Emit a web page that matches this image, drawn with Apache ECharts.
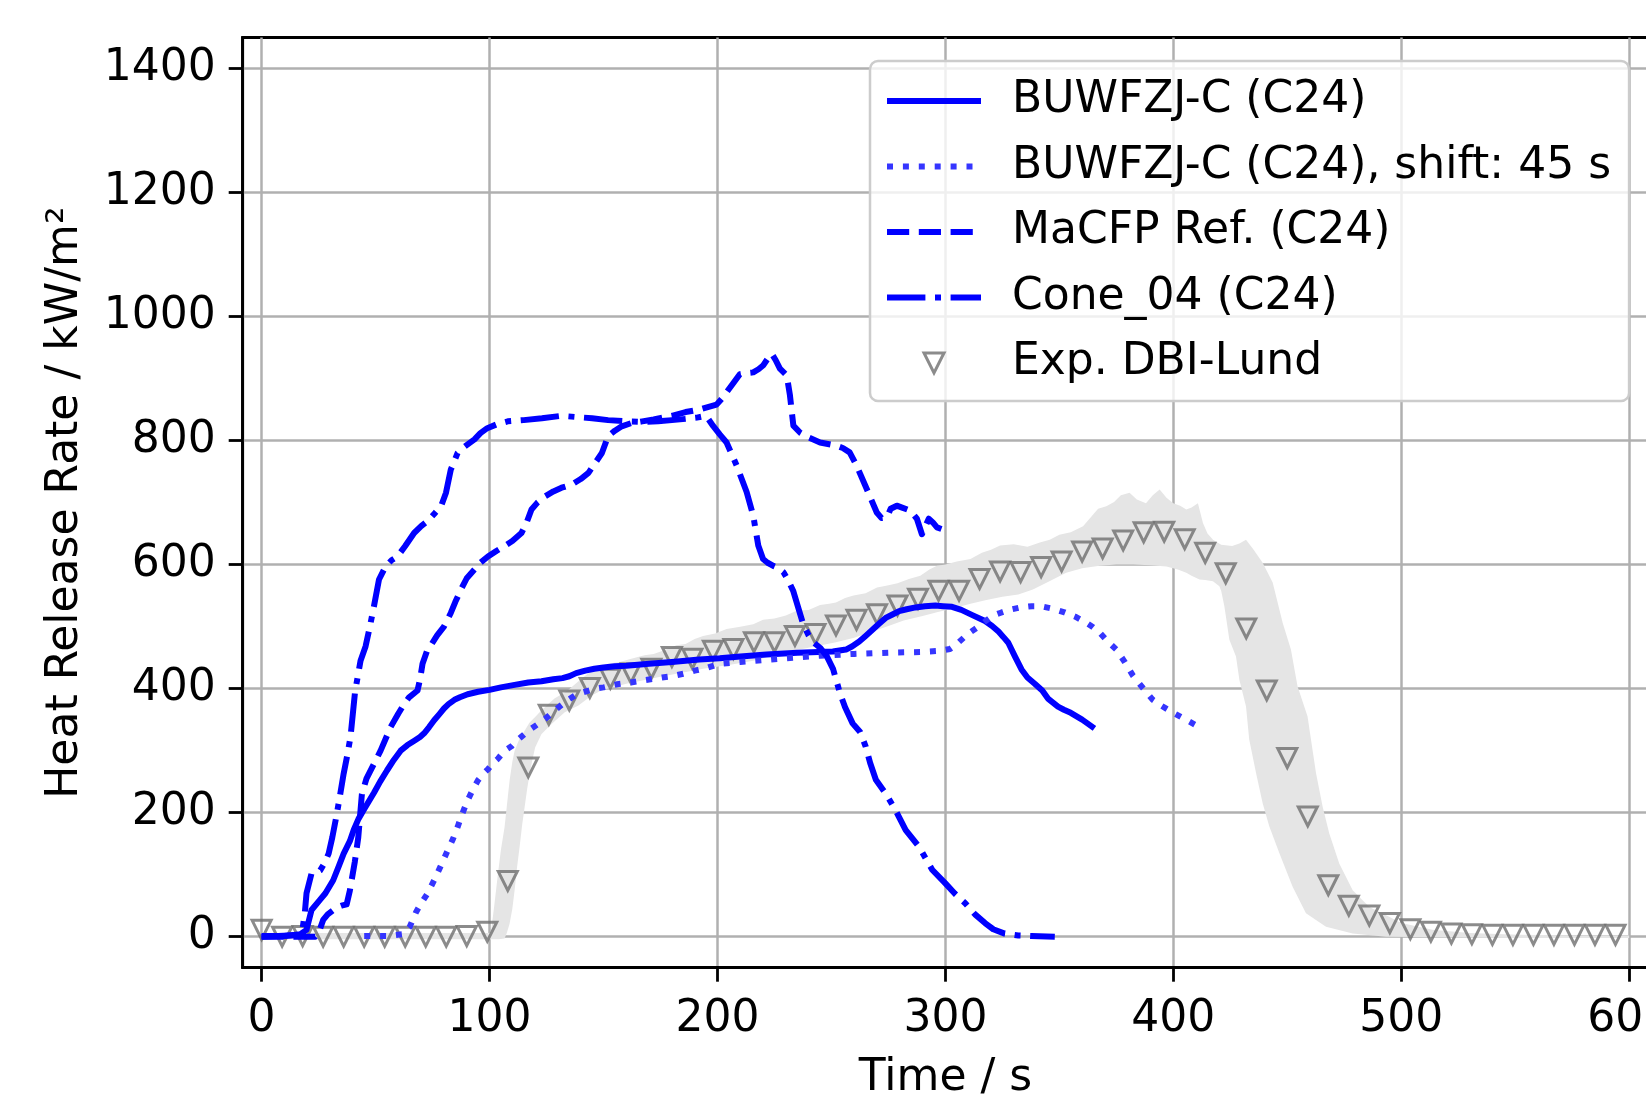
<!DOCTYPE html>
<html>
<head>
<meta charset="utf-8">
<script src="https://cdn.jsdelivr.net/npm/echarts@6/dist/echarts.min.js"></script>
<style>
html,body{margin:0;padding:0;background:#fff;}
#chart{width:1646px;height:1096px;}
</style>
</head>
<body>
<div id="chart"></div>
<script>
// ---------------- data ----------------
const xTicks = [0, 100, 200, 300, 400, 500, 600];
const yTicks = [0, 200, 400, 600, 800, 1000, 1200, 1400];

const seriesNames = ['BUWFZJ-C (C24)', 'BUWFZJ-C (C24), shift: 45 s', 'MaCFP Ref. (C24)', 'Cone_04 (C24)', 'Exp. DBI-Lund'];

const buwfzj = [[0,1],[10,1],[17,4],[19.7,11],[21.9,43],[25.5,59],[28,70],[31.4,91],[34,115],[36,134],[38.7,154],[40.4,172],[42.5,190],[44.9,205],[47,218],[49.3,232],[52,250],[55,268],[58,285],[61,300],[64,309],[67,316],[69.5,322],[71.3,328],[73.5,338],[75.7,349],[78,359],[80,368],[82,375],[84.6,382],[87,386],[90.4,391],[95,395],[100,398],[105,402],[111,406],[117,410],[122.8,412],[128,415],[132,417],[135,420],[138,425],[142,429],[146,432],[150,434],[155,436],[160,437],[170,440],[180,443],[192,447],[201,449],[210,452],[221.5,455],[235,458],[250.6,460],[256.4,463],[259,468],[262.2,476],[265,485],[268,495],[271,505],[273.8,514],[277,520],[279.7,525],[283,528],[286.9,531],[291,533],[295.6,534],[299,533],[302.9,532],[307,527],[311.6,519],[317.4,509],[320.5,501],[323.3,492],[325.5,483],[327.6,474],[330.5,452],[333.4,431],[336,418],[339.2,408],[342.5,397],[345,384],[349.4,371],[352,366],[355,361],[360,350],[365.4,336]];

const buwfzjShift = [[45,1],[55,1],[62,4],[65,16],[67.8,40],[70,54],[72.5,68],[75.7,91],[78.7,115],[81.6,139],[84,158],[86,177],[88,198],[90.4,220],[92.5,236],[94.9,252],[97,262],[99.3,270],[101.5,280],[103.7,287],[106.6,300],[109.6,307],[112,316],[115.4,327],[118.5,336],[121.3,343],[125,353],[128.7,365],[132,375],[135,383],[137.5,389],[141,394],[146.3,400],[150,402],[156,407],[162,410],[167,413],[175.7,418],[180,420],[185,424],[190,429],[195,433],[201,440],[210,443],[220,446],[230,449],[245,453],[260,456],[275,458],[289,459],[297.8,461],[302,464],[305,472],[308,482],[311,491],[314.5,500],[318,510],[321,518],[324,522],[328,527],[333,531],[338,533],[342,533],[347,529],[352.3,523],[357,516],[361,508],[364.8,499],[368,489],[371,477],[375,463],[378.5,444],[382.3,421],[386,404],[391,382],[395,372],[400,361],[405,351],[409.4,342]];

const macfp = [[0,0],[23.5,0],[25,6],[27,27],[29,36],[32.9,47],[35,50],[37.3,52],[38.7,74],[40.9,121],[42.4,160],[44,230],[46,255],[48.5,273],[52.2,300],[56.6,338],[60,360],[62.5,375],[64.7,386],[68.4,397],[69.5,415],[70.6,440],[72.5,460],[74.3,470],[77,486],[80,500],[83,522],[85,540],[87.5,560],[90,578],[93.4,592],[96,603],[99.3,613],[103,622],[106.6,630],[110,638],[114,651],[116,665],[118.4,689],[121,700],[124.3,710],[128,718],[131.6,724],[136,729],[140,738],[143.4,748],[146,762],[149.3,780],[152,807],[155,816],[158,823],[162,828],[167,831],[172,834],[180,840],[186,846],[192,850],[199.6,858],[202,868],[204,878],[207,893],[209.8,907],[213,909],[215.7,910],[218,915],[220,921],[222,932],[223.8,940],[225.5,930],[227.4,916],[230.4,905],[231.8,873],[233.3,824],[236.2,813],[240,805],[245,797],[252,792],[255,788],[258,781],[261,760],[265.5,722],[269.9,684],[272,675],[274.3,676],[276,690],[278.7,695],[281,692],[284.6,687],[287.5,674],[289.7,649],[291,660],[292.7,674],[294.5,668],[296.3,660],[300,655]];

const cone04 = [[0,0],[17.6,3],[19,40],[19.7,70],[21.9,102],[24,104],[25.7,107],[27.5,118],[29.4,134],[31,160],[33,198],[34.5,230],[36,263],[37.5,291],[39,322],[41,395],[43.4,445],[45.6,468],[47.5,500],[49.3,533],[51.5,576],[54.4,597],[57,607],[59.6,613],[63,630],[66.9,651],[70,662],[72.8,670],[76,683],[78.7,694],[80.9,716],[83,753],[86,780],[89,790],[93.4,802],[96,812],[99,820],[103,826],[108,831],[115,833],[123,836],[131.6,840],[138,838],[145,836],[152,833],[160,831],[167,830],[174,831],[180,833],[186,835],[191,837],[195,840],[198,824],[201,810],[204,797],[208.4,760],[212.8,717],[215.7,679],[217.9,631],[220,609],[222,603],[224.5,598],[226.5,595],[228.9,588],[231,575],[233.3,557],[235.5,530],[237.6,504],[240,486],[242,475],[245,466],[248,452],[250.7,432],[253.8,392],[256,370],[259.3,344],[262.6,330],[265,307],[267,280],[269.5,253],[273.8,231],[278,205],[282.6,172],[288.4,145],[294.2,108],[300,86],[304,70],[308.7,54],[313,36],[317.4,22],[321,12],[326,5],[332,2],[337.8,1],[348,0]];

const expT = [0,9,18,27,36,45,54,63,72,81,90,99,108,117,126,135,144,153,162,171,180,189,198,207,216,225,234,243,252,261,270,279,288,297,306,315,324,333,342,351,360,369,378,387,396,405,414,423,432,441,450,459,468,477,486,495,504,513,522,531,540,549,558,567,576,585,594];
const expV = [11,0,1,0,0,0,0,0,0,0,1,8,90,273,358,381,401,416,425,432,451,448,461,464,475,475,485,488,502,511,520,534,545,558,558,577,589,588,596,605,621,626,639,652,653,641,619,586,497,397,288,194,83,50,34,22,12,8,5,4,3,3,3,3,3,3,3];

const bandHi = [[0,6],[50,6],[100,6],[100.7,10],[102,48],[103.7,102],[105,140],[106.6,177],[108,225],[108.8,252],[110,282],[111,300],[113,318],[115.4,332],[117.5,345],[119.9,354],[122.5,364],[125.7,375],[128.5,384],[131.6,391],[134.5,398],[137.5,407],[141,418],[144.8,429],[148,435],[152,440],[157,443],[163,449],[168,454],[172,456],[176,461],[182,470],[186,472],[190,480],[193.7,485],[199,489],[204,496],[210,500],[215.7,504],[220,511],[225,513],[230,518],[235,526],[240,527],[245,535],[249,537],[252,539],[256,546],[259.7,550],[265,554],[270,563],[274,566],[279,570],[284,577],[289,582],[293,592],[296.3,598],[300,600],[305,605],[311,609],[316,619],[320,624],[324,631],[330,633],[336,629],[341.8,636],[345.8,640],[350,648],[355,652],[360.4,662],[364,677],[367,690],[370.6,694],[374,701],[377,712],[380.8,716],[384,705],[388,699],[391,712],[394,721],[397,708],[400,699],[403,695],[405.7,689],[408,692],[410.8,699],[413,667],[415,650],[417.4,640],[421,632],[425.8,630],[429,634],[431.9,640],[435,625],[439.2,603],[443.6,571],[448,506],[451.6,463],[454.5,404],[458.9,355],[460.4,318],[462.6,264],[465.5,210],[468.4,167],[472.8,118],[478.7,75],[486,48],[494.7,32],[500,22],[513.7,11],[530,6],[551.8,3],[580,2],[600,2]];

const bandLo = [[0,-4],[50,-4],[100,-4],[104,-4],[106.6,-3],[107.5,5],[108.8,21],[110,45],[111,75],[112,110],[113.2,145],[114.3,180],[115.4,209],[116.5,238],[117.6,263],[118.8,285],[120,305],[122.8,327],[127.2,343],[133,362],[139,373],[144.8,389],[149,397],[153.7,402],[160,408],[167,413],[175,419],[185,426],[193.7,432],[205,438],[215.7,445],[223,452],[230,459],[240,466],[252,475],[260,482],[267,491],[275,501],[281.7,510],[290,517],[296.3,523],[304,530],[311,537],[318,543],[325,548],[332,552],[338.4,560],[345,572],[353,587],[360,594],[367.7,598],[375,600],[382.3,600],[390,599],[397,597],[402,592],[405.7,587],[408,582],[411.5,576],[414,575],[417.4,573],[420.2,565],[421,558],[422.4,533],[424.6,479],[427.5,452],[429,414],[431.9,371],[433.3,318],[436.3,264],[439.2,215],[442.1,178],[446.5,135],[452.3,81],[458.2,38],[467,16],[478.7,5],[493.3,0],[550,-2],[600,-2]];

// ---------------- chart ----------------
const FONT = 'DejaVu Sans';
const FS = 44;
const LW = 6;
const BLUE = '#0000ff';

const chart = echarts.init(document.getElementById('chart'), null, {renderer: 'canvas'});

const bandSeries = {
  type: 'custom',
  name: 'band',
  z: 1,
  silent: true,
  data: [0],
  renderItem: function (params, api) {
    if (params.dataIndex !== 0) return null;
    const pts = [];
    for (let i = 0; i < bandHi.length; i++) pts.push(api.coord(bandHi[i]));
    for (let i = bandLo.length - 1; i >= 0; i--) pts.push(api.coord(bandLo[i]));
    return {
      type: 'polygon',
      shape: {points: pts},
      style: {fill: '#e5e5e5', stroke: null}
    };
  }
};

function lineSeries(name, data, type, color) {
  return {
    type: 'line',
    name: name,
    data: data,
    symbol: 'none',
    z: 4,
    lineStyle: {color: color, width: LW, type: type, cap: 'butt', join: 'round'},
    itemStyle: {color: color},
    emphasis: {disabled: true}
  };
}

const expData = expT.map((t, i) => [t, expV[i]]);
const hiddenSym = {color: 'rgba(0,0,0,0)', borderWidth: 0, opacity: 0};

const option = {
  animation: false,
  backgroundColor: '#ffffff',
  textStyle: {fontFamily: FONT},
  grid: {
    left: 242.7, top: 37.5, right: -2.3, bottom: 128.3,
    containLabel: false, outerBoundsMode: 'none',
    show: true, borderColor: '#000', borderWidth: 2.8, backgroundColor: 'transparent'
  },
  xAxis: {
    type: 'value', min: -8.3, max: 608.4,
    name: 'Time / s', nameLocation: 'middle', nameGap: 89,
    nameTextStyle: {fontSize: FS, color: '#000', fontFamily: FONT},
    axisLine: {show: true, onZero: false, lineStyle: {color: '#000', width: 2.8}},
    axisTick: {show: true, customValues: xTicks, length: 14, lineStyle: {color: '#000', width: 2.8}},
    axisLabel: {customValues: xTicks, fontSize: FS, color: '#000', margin: 30, fontFamily: FONT,
      formatter: v => String(v)},
    splitLine: {show: true, lineStyle: {color: '#b0b0b0', width: 2.5}}
  },
  yAxis: {
    type: 'value', min: -50, max: 1450,
    name: 'Heat Release Rate / kW/m²', nameLocation: 'middle', nameGap: 155, nameRotate: 90,
    nameTextStyle: {fontSize: FS, color: '#000', fontFamily: FONT},
    axisLine: {show: true, onZero: false, lineStyle: {color: '#000', width: 2.8}},
    axisTick: {show: true, customValues: yTicks, length: 14, lineStyle: {color: '#000', width: 2.8}},
    axisLabel: {customValues: yTicks, fontSize: FS, color: '#000', margin: 27, fontFamily: FONT,
      formatter: v => String(v)},
    splitLine: {show: true, lineStyle: {color: '#b0b0b0', width: 2.5}}
  },
  legend: {
    orient: 'vertical',
    left: 870, top: 61,
    padding: [15, 18, 13, 14],
    itemWidth: 94, itemHeight: 20, itemGap: 15.5,
    backgroundColor: 'rgba(255,255,255,0.8)',
    borderColor: '#cccccc', borderWidth: 2.5, borderRadius: 8,
    lineStyle: {width: LW},
    textStyle: {fontSize: FS, color: '#000', fontFamily: FONT, lineHeight: 50, padding: [0, 0, 0, 26]},
    data: [
      {name: seriesNames[0], itemStyle: hiddenSym},
      {name: seriesNames[1], itemStyle: hiddenSym},
      {name: seriesNames[2], itemStyle: hiddenSym},
      {name: seriesNames[3], itemStyle: hiddenSym},
      {name: seriesNames[4], itemStyle: {color: 'rgba(0,0,0,0)', borderColor: '#6e6e6e', borderWidth: 3}}
    ],
    selectedMode: false
  },
  series: [
    bandSeries,
    {
      type: 'scatter',
      name: seriesNames[4],
      data: expData,
      z: 3,
      symbol: 'path://M0,0L2,0L1,2Z',
      symbolSize: 19,
      itemStyle: {color: 'rgba(0,0,0,0)', borderColor: '#6e6e6e', borderWidth: 3, borderJoin: 'miter'},
      emphasis: {disabled: true}
    },
    lineSeries(seriesNames[0], buwfzj, 'solid', BLUE),
    lineSeries(seriesNames[1], buwfzjShift, [LW, LW * 1.65], '#3535ff'),
    lineSeries(seriesNames[2], macfp, [LW * 3.7, LW * 1.6], BLUE),
    lineSeries(seriesNames[3], cone04, [LW * 6.4, LW * 1.6, LW, LW * 1.6], BLUE)
  ]
};

chart.setOption(option);
</script>
</body>
</html>
